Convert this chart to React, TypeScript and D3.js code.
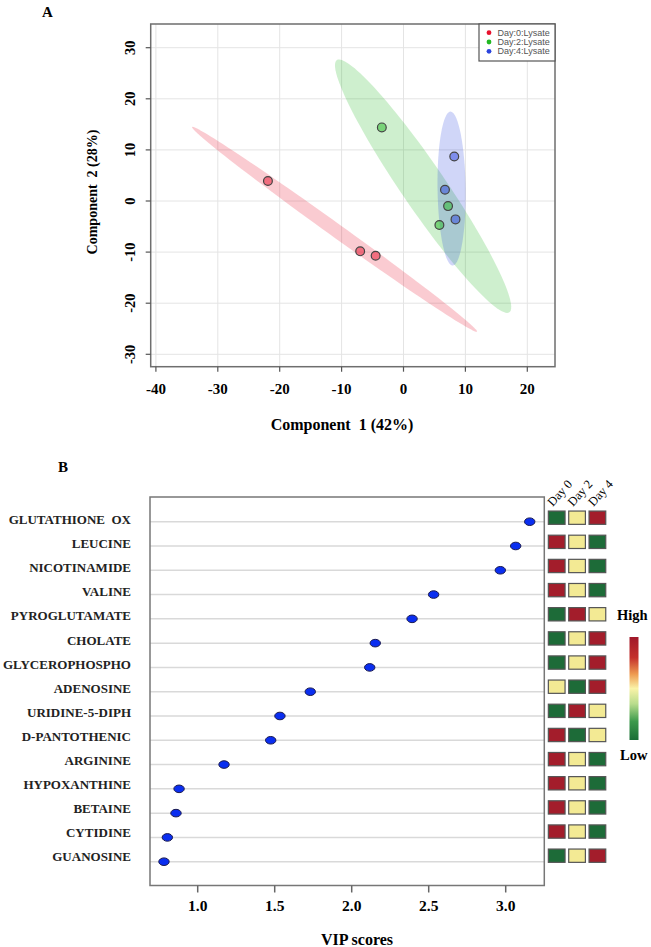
import React from "react";
import * as d3 from "d3";

// ---------- Panel A data ----------
const groups = ["Day:0:Lysate", "Day:2:Lysate", "Day:4:Lysate"];
const groupColors = ["#E8112D", "#22B822", "#2B44DD"];
const comp1Day0 = [-21.9, -7.0, -4.5];
const comp2Day0 = [3.9, -9.85, -10.7];
const comp1Day2 = [-3.5, 7.2, 5.8];
const comp2Day2 = [14.4, -1.0, -4.7];
const comp1Day4 = [8.2, 6.7, 8.4];
const comp2Day4 = [8.7, 2.2, -3.6];
const xTicksA = [-40, -30, -20, -10, 0, 10, 20];
const yTicksA = [30, 20, 10, 0, -10, -20, -30];

// ---------- Panel B data ----------
const metabolites = [
  "GLUTATHIONE  OX", "LEUCINE", "NICOTINAMIDE", "VALINE", "PYROGLUTAMATE",
  "CHOLATE", "GLYCEROPHOSPHO", "ADENOSINE", "URIDINE-5-DIPH", "D-PANTOTHENIC",
  "ARGININE", "HYPOXANTHINE", "BETAINE", "CYTIDINE", "GUANOSINE",
];
const vipScores = [3.156, 3.065, 2.965, 2.532, 2.392, 2.153, 2.117, 1.731, 1.534, 1.474, 1.171, 0.879, 0.859, 0.803, 0.781];
const days = ["Day 0", "Day 2", "Day 4"];
const heatDay0 = [-1, 1, 1, 1, -1, -1, -1, 0, -1, 1, 1, 1, 1, 1, -1];
const heatDay2 = [0, 0, 0, 0, 1, 0, 0, -1, 1, -1, 0, 0, 0, 0, 0];
const heatDay4 = [1, -1, -1, -1, 0, 1, 1, 1, 0, 0, -1, -1, -1, -1, 1];
const vipTicks = [1.0, 1.5, 2.0, 2.5, 3.0];

const SERIF = "'Liberation Serif', 'Times New Roman', serif";
const SANS = "'Liberation Sans', Arial, sans-serif";

function ellipsePath(xs: number[], ys: number[], xS: any, yS: any) {
  const n = xs.length;
  const mx = d3.mean(xs) as number;
  const my = d3.mean(ys) as number;
  const sx = Math.sqrt(d3.variance(xs) as number);
  const sy = Math.sqrt(d3.variance(ys) as number);
  let cxy = 0;
  for (let i = 0; i < n; i++) cxy += (xs[i] - mx) * (ys[i] - my);
  cxy /= n - 1;
  const r = cxy / (sx * sy);
  const t = Math.sqrt(-2 * Math.log(0.05));
  const d = Math.acos(r);
  const pts = d3.range(121).map((i) => {
    const a = (i / 120) * 2 * Math.PI;
    return [xS(t * sx * Math.cos(a + d / 2) + mx), yS(t * sy * Math.cos(a - d / 2) + my)] as [number, number];
  });
  return (d3.line()(pts) || "") + "Z";
}

export default function App() {
  // Panel A scales
  const xA = d3.scaleLinear().domain([-40, 20]).range([155.9, 527.3]);
  const yA = d3.scaleLinear().domain([30, -30]).range([47.7, 354.3]);
  const boxA = { l: 150.7, t: 24, r: 555, b: 366.7 };
  const series = [
    { xs: comp1Day0, ys: comp2Day0 },
    { xs: comp1Day2, ys: comp2Day2 },
    { xs: comp1Day4, ys: comp2Day4 },
  ];

  // Panel B scales
  const xB = d3.scaleLinear().domain([1, 3]).range([197.7, 505.7]);
  const yB = d3.scalePoint().domain(metabolites).range([521.7, 861.7]);
  const yLab = d3.scalePoint().domain(metabolites).range([524.2, 861.2]);
  const yHeat = d3.scalePoint().domain(metabolites).range([517.7, 855.7]);
  const xHeat = d3.scalePoint().domain(days).range([556.7, 597.4]);
  const heatColor = d3.scaleOrdinal<number, string>().domain([-1, 0, 1]).range(["#1D6B38", "#F3EA94", "#A31D2B"]);
  const heatCols = [heatDay0, heatDay2, heatDay4];
  const boxB = { l: 150, t: 497, r: 544.3, b: 885.5 };
  const cellW = 16.7, cellH = 13.3;

  return (
    <svg width={651} height={947} style={{ position: "absolute", left: 0, top: 0, background: "#fff" }}>
      <defs>
        <linearGradient id="cbar" x1="0" y1="0" x2="0" y2="1">
          <stop offset="0" stopColor="#A0182A" />
          <stop offset="0.2" stopColor="#C4302C" />
          <stop offset="0.36" stopColor="#EE9A50" />
          <stop offset="0.5" stopColor="#FAF3A8" />
          <stop offset="0.65" stopColor="#B8DC8C" />
          <stop offset="0.82" stopColor="#3C9A4C" />
          <stop offset="1" stopColor="#1A6E36" />
        </linearGradient>
        <clipPath id="clipA">
          <rect x={boxA.l} y={boxA.t} width={boxA.r - boxA.l} height={boxA.b - boxA.t} />
        </clipPath>
      </defs>

      {/* ================= Panel A ================= */}
      <text x={42} y={17} fontFamily={SERIF} fontWeight="bold" fontSize={15}>A</text>
      {/* grid */}
      {xTicksA.map((v) => (
        <line key={"gx" + v} x1={xA(v)} x2={xA(v)} y1={boxA.t} y2={boxA.b} stroke="#E4E4E4" strokeWidth={1} />
      ))}
      {yTicksA.map((v) => (
        <line key={"gy" + v} x1={boxA.l} x2={boxA.r} y1={yA(v)} y2={yA(v)} stroke="#E4E4E4" strokeWidth={1} />
      ))}
      {/* ellipses */}
      <g clipPath="url(#clipA)">
        {series.map((s, i) => (
          <path key={"el" + i} d={ellipsePath(s.xs, s.ys, xA, yA)} fill={groupColors[i]} fillOpacity={0.22} stroke="none" />
        ))}
        {series.map((s, i) =>
          s.xs.map((x, j) => (
            <circle key={"pt" + i + "-" + j} cx={xA(x)} cy={yA(s.ys[j])} r={4.4} fill={groupColors[i]} fillOpacity={0.5} stroke="#444" strokeWidth={1.2} />
          ))
        )}
      </g>
      {/* box */}
      <rect x={boxA.l} y={boxA.t} width={boxA.r - boxA.l} height={boxA.b - boxA.t} fill="none" stroke="#6E6E6E" strokeWidth={1.5} />
      {/* x ticks */}
      {xTicksA.map((v) => (
        <g key={"xt" + v}>
          <line x1={xA(v)} x2={xA(v)} y1={boxA.b} y2={boxA.b + 5} stroke="#555" strokeWidth={1.2} />
          <text x={xA(v)} y={394} textAnchor="middle" fontFamily={SERIF} fontWeight="bold" fontSize={15}>{v}</text>
        </g>
      ))}
      {/* y ticks */}
      {yTicksA.map((v) => (
        <g key={"yt" + v}>
          <line x1={boxA.l - 5} x2={boxA.l} y1={yA(v)} y2={yA(v)} stroke="#555" strokeWidth={1.2} />
          <text x={130} y={yA(v)} transform={`rotate(-90, 130, ${yA(v)})`} textAnchor="middle" dominantBaseline="central" fontFamily={SERIF} fontWeight="bold" fontSize={14.5}>{v}</text>
        </g>
      ))}
      <text x={342} y={430} textAnchor="middle" fontFamily={SERIF} fontWeight="bold" fontSize={16} xmlSpace="preserve">{"Component  1 (42%)"}</text>
      <text x={92} y={192} transform="rotate(-90, 92, 192)" textAnchor="middle" dominantBaseline="central" fontFamily={SERIF} fontWeight="bold" fontSize={14} xmlSpace="preserve">{"Component  2 (28%)"}</text>
      {/* legend */}
      <rect x={479} y={24} width={76} height={37} fill="#fff" stroke="#555" strokeWidth={1.2} />
      {groups.map((g, i) => (
        <g key={"lg" + i}>
          <circle cx={489} cy={32.7 + i * 9.3} r={2.4} fill={groupColors[i]} />
          <text x={497.5} y={32.7 + i * 9.3} dominantBaseline="central" fontFamily={SANS} fontSize={9} fill="#555">{g}</text>
        </g>
      ))}

      {/* ================= Panel B ================= */}
      <text x={58} y={472} fontFamily={SERIF} fontWeight="bold" fontSize={15}>B</text>
      {metabolites.map((m) => (
        <line key={"gb" + m} x1={boxB.l} x2={boxB.r} y1={yB(m)} y2={yB(m)} stroke="#D9D9D9" strokeWidth={1.5} />
      ))}
      <rect x={boxB.l} y={boxB.t} width={boxB.r - boxB.l} height={boxB.b - boxB.t} fill="none" stroke="#777" strokeWidth={1.5} />
      {metabolites.map((m, i) => (
        <ellipse key={"dot" + m} cx={xB(vipScores[i])} cy={yB(m)} rx={5.2} ry={3.8} fill="#0A2EF0" stroke="#1A1A50" strokeWidth={1} />
      ))}
      {metabolites.map((m) => (
        <text key={"lab" + m} x={131} y={yLab(m)} textAnchor="end" fontFamily={SERIF} fontWeight="bold" fontSize={13} fill="#222" xmlSpace="preserve">{m}</text>
      ))}
      {vipTicks.map((v) => (
        <g key={"vt" + v}>
          <line x1={xB(v)} x2={xB(v)} y1={boxB.b} y2={boxB.b + 7} stroke="#666" strokeWidth={1.5} />
          <text x={xB(v)} y={911} textAnchor="middle" fontFamily={SERIF} fontWeight="bold" fontSize={15.5}>{v.toFixed(1)}</text>
        </g>
      ))}
      <text x={357} y={945} textAnchor="middle" fontFamily={SERIF} fontWeight="bold" fontSize={16}>VIP scores</text>

      {/* heatmap */}
      {days.map((d, c) => (
        <g key={"col" + d}>
          <text x={xHeat(d)! - 4} y={507} transform={`rotate(-48, ${xHeat(d)! - 4}, 507)`} fontFamily={SERIF} fontSize={12.5}>{d}</text>
          {metabolites.map((m, r) => (
            <rect key={"c" + d + m} x={xHeat(d)! - cellW / 2} y={yHeat(m)! - cellH / 2} width={cellW} height={cellH} fill={heatColor(heatCols[c][r])} stroke="#555" strokeWidth={1.2} />
          ))}
        </g>
      ))}
      {/* colour bar */}
      <text x={617} y={620} fontFamily={SERIF} fontWeight="bold" fontSize={14.5}>High</text>
      <rect x={629.5} y={637} width={9} height={103} fill="url(#cbar)" />
      <text x={620} y={760} fontFamily={SERIF} fontWeight="bold" fontSize={14.5}>Low</text>
    </svg>
  );
}
